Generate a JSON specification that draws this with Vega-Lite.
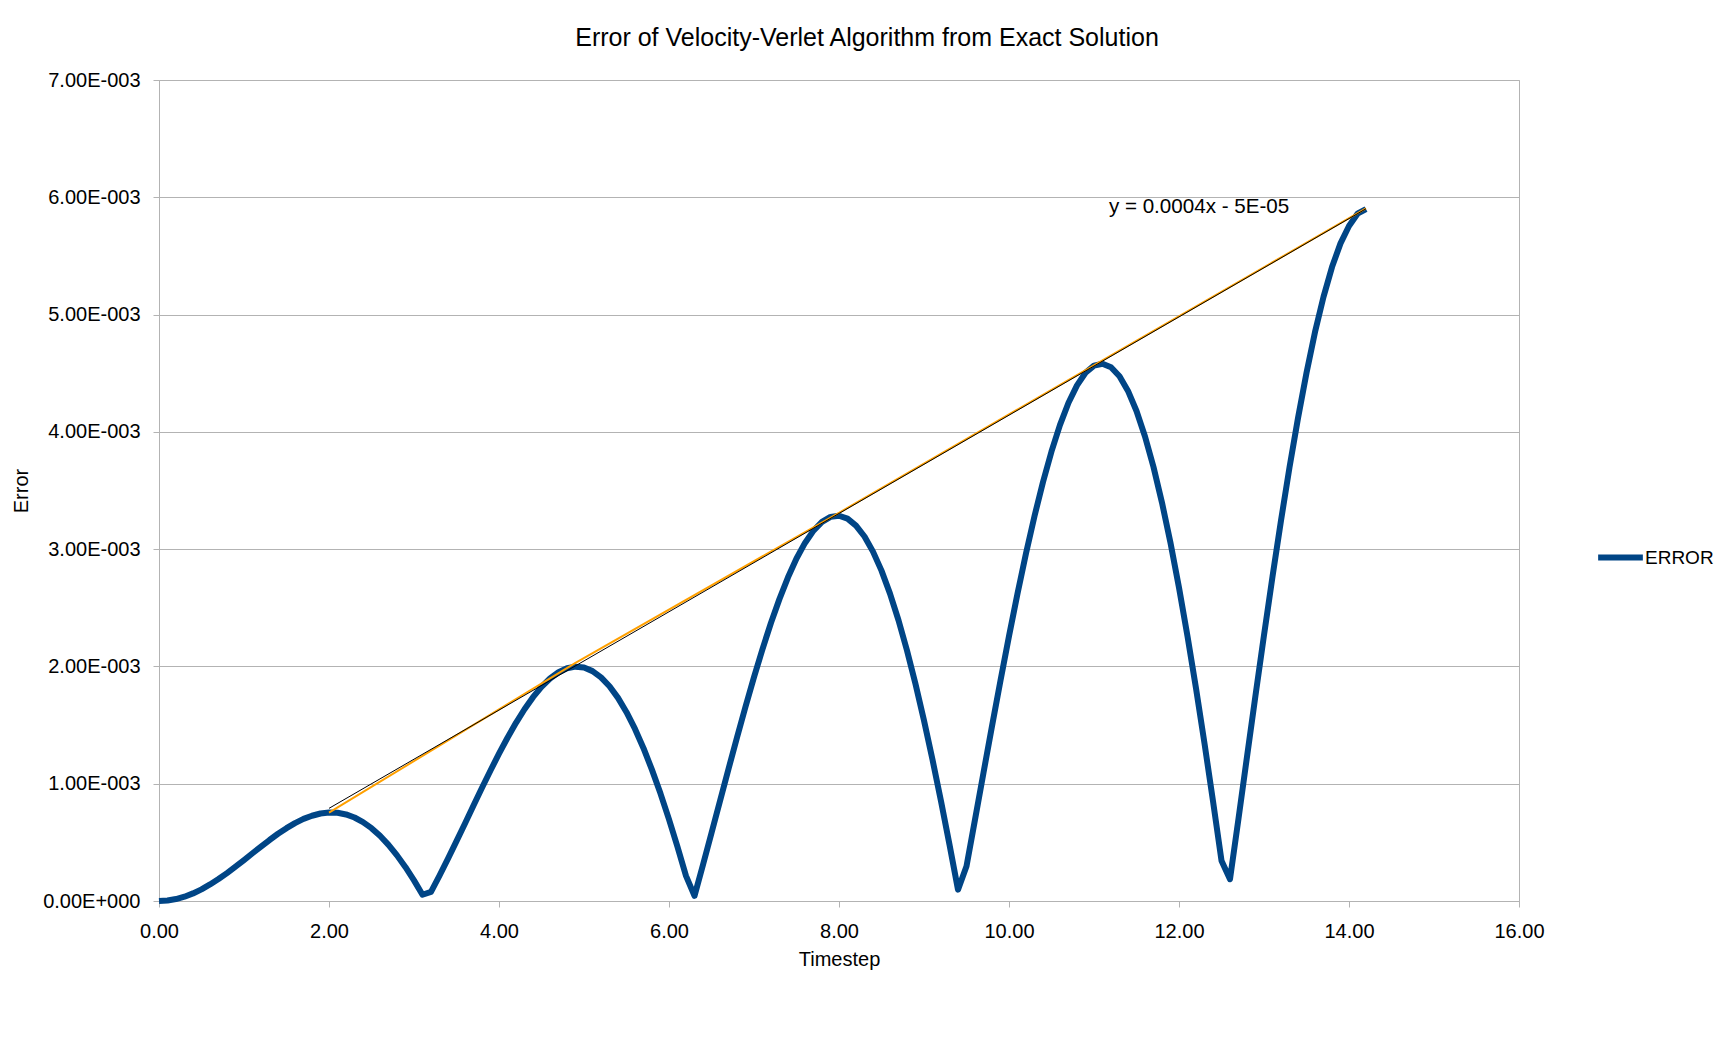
{
  "$schema": "https://vega.github.io/schema/vega-lite/v6.json",
  "description": "Error of Velocity-Verlet algorithm vs exact solution, with peak line and linear trend.",
  "autosize": {"type": "none"},
  "width": 1360,
  "height": 821,
  "padding": {"left": 159, "top": 80, "right": 216, "bottom": 139},
  "background": "white",
  "config": {
    "font": "Liberation Sans",
    "view": {"stroke": "#b3b3b3", "strokeWidth": 1},
    "axis": {
      "labelFont": "Liberation Sans",
      "labelFontSize": 20,
      "labelColor": "#000000",
      "labelFlush": false,
      "titleFont": "Liberation Sans",
      "titleFontSize": 20,
      "titleFontWeight": "normal",
      "titleColor": "#000000",
      "domainColor": "#b3b3b3",
      "tickColor": "#b3b3b3",
      "tickSize": 6,
      "gridColor": "#b3b3b3",
      "gridWidth": 1
    }
  },
  "title": {
    "text": "Error of Velocity-Verlet Algorithm from Exact Solution",
    "font": "Liberation Sans",
    "fontSize": 25,
    "fontWeight": "normal",
    "color": "#000000",
    "anchor": "middle",
    "dx": 28,
    "baseline": "alphabetic",
    "offset": -1
  },
  "datasets": {
    "error": [
      {"t": 0.0, "e": 0.0},
      {"t": 0.1, "e": 0.0000041},
      {"t": 0.2, "e": 0.0000165},
      {"t": 0.3, "e": 0.0000368},
      {"t": 0.4, "e": 0.0000646},
      {"t": 0.5, "e": 0.0000995},
      {"t": 0.6, "e": 0.000141},
      {"t": 0.7, "e": 0.000187},
      {"t": 0.8, "e": 0.000238},
      {"t": 0.9, "e": 0.000293},
      {"t": 1.0, "e": 0.000349},
      {"t": 1.1, "e": 0.000407},
      {"t": 1.2, "e": 0.000464},
      {"t": 1.3, "e": 0.000520},
      {"t": 1.4, "e": 0.000573},
      {"t": 1.5, "e": 0.000621},
      {"t": 1.6, "e": 0.000664},
      {"t": 1.7, "e": 0.000700},
      {"t": 1.8, "e": 0.000727},
      {"t": 1.9, "e": 0.000746},
      {"t": 2.0, "e": 0.000755},
      {"t": 2.1, "e": 0.000752},
      {"t": 2.2, "e": 0.000738},
      {"t": 2.3, "e": 0.000712},
      {"t": 2.4, "e": 0.000673},
      {"t": 2.5, "e": 0.000621},
      {"t": 2.6, "e": 0.000556},
      {"t": 2.7, "e": 0.000479},
      {"t": 2.8, "e": 0.000389},
      {"t": 2.9, "e": 0.000288},
      {"t": 3.0, "e": 0.000176},
      {"t": 3.1, "e": 0.0000535},
      {"t": 3.2, "e": 0.0000776},
      {"t": 3.3, "e": 0.000216},
      {"t": 3.4, "e": 0.000361},
      {"t": 3.5, "e": 0.000510},
      {"t": 3.6, "e": 0.000661},
      {"t": 3.7, "e": 0.000814},
      {"t": 3.8, "e": 0.000965},
      {"t": 3.9, "e": 0.001113},
      {"t": 4.0, "e": 0.001256},
      {"t": 4.1, "e": 0.001392},
      {"t": 4.2, "e": 0.001519},
      {"t": 4.3, "e": 0.001635},
      {"t": 4.4, "e": 0.001738},
      {"t": 4.5, "e": 0.001826},
      {"t": 4.6, "e": 0.001897},
      {"t": 4.7, "e": 0.001950},
      {"t": 4.8, "e": 0.001984},
      {"t": 4.9, "e": 0.001998},
      {"t": 5.0, "e": 0.001990},
      {"t": 5.1, "e": 0.001960},
      {"t": 5.2, "e": 0.001907},
      {"t": 5.3, "e": 0.001831},
      {"t": 5.4, "e": 0.001732},
      {"t": 5.5, "e": 0.001610},
      {"t": 5.6, "e": 0.001467},
      {"t": 5.7, "e": 0.001303},
      {"t": 5.8, "e": 0.001118},
      {"t": 5.9, "e": 0.000916},
      {"t": 6.0, "e": 0.000696},
      {"t": 6.1, "e": 0.000461},
      {"t": 6.2, "e": 0.000214},
      {"t": 6.3, "e": 0.0000439},
      {"t": 6.4, "e": 0.000309},
      {"t": 6.5, "e": 0.000580},
      {"t": 6.6, "e": 0.000853},
      {"t": 6.7, "e": 0.001126},
      {"t": 6.8, "e": 0.001394},
      {"t": 6.9, "e": 0.001656},
      {"t": 7.0, "e": 0.001909},
      {"t": 7.1, "e": 0.002148},
      {"t": 7.2, "e": 0.002372},
      {"t": 7.3, "e": 0.002576},
      {"t": 7.4, "e": 0.002760},
      {"t": 7.5, "e": 0.002920},
      {"t": 7.6, "e": 0.003053},
      {"t": 7.7, "e": 0.003158},
      {"t": 7.8, "e": 0.003232},
      {"t": 7.9, "e": 0.003275},
      {"t": 8.0, "e": 0.003285},
      {"t": 8.1, "e": 0.003260},
      {"t": 8.2, "e": 0.003201},
      {"t": 8.3, "e": 0.003108},
      {"t": 8.4, "e": 0.002979},
      {"t": 8.5, "e": 0.002817},
      {"t": 8.6, "e": 0.002621},
      {"t": 8.7, "e": 0.002394},
      {"t": 8.8, "e": 0.002136},
      {"t": 8.9, "e": 0.001850},
      {"t": 9.0, "e": 0.001539},
      {"t": 9.1, "e": 0.001205},
      {"t": 9.2, "e": 0.000851},
      {"t": 9.3, "e": 0.000481},
      {"t": 9.4, "e": 0.0000967},
      {"t": 9.5, "e": 0.000297},
      {"t": 9.6, "e": 0.000694},
      {"t": 9.7, "e": 0.001094},
      {"t": 9.8, "e": 0.001491},
      {"t": 9.9, "e": 0.001880},
      {"t": 10.0, "e": 0.002258},
      {"t": 10.1, "e": 0.002621},
      {"t": 10.2, "e": 0.002963},
      {"t": 10.3, "e": 0.003282},
      {"t": 10.4, "e": 0.003573},
      {"t": 10.5, "e": 0.003833},
      {"t": 10.6, "e": 0.004059},
      {"t": 10.7, "e": 0.004248},
      {"t": 10.8, "e": 0.004396},
      {"t": 10.9, "e": 0.004504},
      {"t": 11.0, "e": 0.004565},
      {"t": 11.1, "e": 0.004581},
      {"t": 11.2, "e": 0.004551},
      {"t": 11.3, "e": 0.004474},
      {"t": 11.4, "e": 0.004349},
      {"t": 11.5, "e": 0.004178},
      {"t": 11.6, "e": 0.003961},
      {"t": 11.7, "e": 0.003700},
      {"t": 11.8, "e": 0.003396},
      {"t": 11.9, "e": 0.003053},
      {"t": 12.0, "e": 0.002672},
      {"t": 12.1, "e": 0.002258},
      {"t": 12.2, "e": 0.001814},
      {"t": 12.3, "e": 0.001344},
      {"t": 12.4, "e": 0.000852},
      {"t": 12.5, "e": 0.000344},
      {"t": 12.6, "e": 0.000186},
      {"t": 12.7, "e": 0.000702},
      {"t": 12.8, "e": 0.001230},
      {"t": 12.9, "e": 0.001753},
      {"t": 13.0, "e": 0.002267},
      {"t": 13.1, "e": 0.002766},
      {"t": 13.2, "e": 0.003244},
      {"t": 13.3, "e": 0.003697},
      {"t": 13.4, "e": 0.004117},
      {"t": 13.5, "e": 0.004503},
      {"t": 13.6, "e": 0.004851},
      {"t": 13.7, "e": 0.005151},
      {"t": 13.8, "e": 0.005405},
      {"t": 13.9, "e": 0.005607},
      {"t": 14.0, "e": 0.005755},
      {"t": 14.1, "e": 0.005860},
      {"t": 14.2, "e": 0.005900}
    ],
    "peaks": [
      {"t": 2.0, "e": 0.000753},
      {"t": 4.9, "e": 0.00203},
      {"t": 8.0, "e": 0.00331},
      {"t": 11.1, "e": 0.00461},
      {"t": 14.2, "e": 0.005905}
    ],
    "trend": [
      {"t": 2.0, "e": 0.00079},
      {"t": 14.2, "e": 0.005902}
    ],
    "equation": [
      {"t": 11.175, "e": 0.005865, "label": "y = 0.0004x - 5E-05"}
    ]
  },
  "encoding": {
    "x": {
      "field": "t",
      "type": "quantitative",
      "title": "Timestep",
      "scale": {"domain": [0, 16], "nice": false, "zero": false},
      "axis": {
        "values": [0, 2, 4, 6, 8, 10, 12, 14, 16],
        "format": ".2f",
        "grid": false,
        "labelPadding": 14,
        "titlePadding": 8
      }
    },
    "y": {
      "field": "e",
      "type": "quantitative",
      "title": "Error",
      "scale": {"domain": [0, 0.007], "nice": false},
      "axis": {
        "values": [0, 0.001, 0.002, 0.003, 0.004, 0.005, 0.006, 0.007],
        "labelExpr": "replace(replace(format(datum.value, '.2e'), 'e-', 'E-00'), 'e+', 'E+00')",
        "labelPadding": 13,
        "titlePadding": 11
      }
    }
  },
  "layer": [
    {
      "data": {"name": "error"},
      "mark": {"type": "line", "strokeWidth": 6, "strokeJoin": "round", "strokeCap": "butt"},
      "encoding": {
        "color": {
          "datum": "ERROR",
          "type": "nominal",
          "scale": {"range": ["#004586"]},
          "legend": {
            "title": null,
            "orient": "none",
            "legendX": 1436,
            "legendY": 452,
            "padding": 0,
            "symbolType": "stroke",
            "symbolSize": 2000,
            "symbolStrokeWidth": 6,
            "labelFont": "Liberation Sans",
            "labelFontSize": 19,
            "labelColor": "#000000",
            "labelOffset": -1
          }
        }
      }
    },
    {
      "data": {"name": "peaks"},
      "mark": {"type": "line", "strokeWidth": 2, "color": "#ffa000"},
      "encoding": {}
    },
    {
      "data": {"name": "trend"},
      "mark": {"type": "line", "strokeWidth": 1, "color": "#000000"},
      "encoding": {}
    },
    {
      "data": {"name": "equation"},
      "mark": {"type": "text", "align": "left", "baseline": "alphabetic", "font": "Liberation Sans", "fontSize": 20.6, "color": "#000000"},
      "encoding": {"text": {"field": "label"}}
    }
  ]
}
